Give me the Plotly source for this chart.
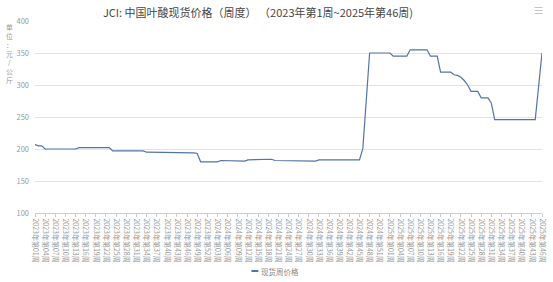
import plotly.graph_objects as go

# ---- data ----
years = [2023, 2024, 2025]
weeks_per_year = [52, 53, 46]
weeks = [f"{y}年第{w:02d}周" for y, n in zip(years, weeks_per_year) for w in range(1, n + 1)]

prices = [
    207, 205, 205, 200, 200, 200, 200, 200, 200, 200, 200, 200, 200,
    202, 202, 202, 202, 202, 202, 202, 202, 202, 202,
    197, 197, 197, 197, 197, 197, 197, 197, 197, 197,
    195, 195, 195, 195, 195, 195, 195, 195, 195, 195, 195, 195, 195,
    194, 194, 193,
    180, 180, 180, 180, 180, 180,
    182, 182, 182, 182, 182,
    181, 181, 181,
    183, 183, 183, 183, 183, 183,
    184, 184,
    182, 182,
    181, 181, 181, 181, 181, 181, 181, 181, 181, 181, 181,
    183, 183, 183, 183, 183, 183, 183, 183, 183, 183, 183, 183, 183,
    201, 275,
    350, 350, 350, 350, 350, 350, 350,
    345, 345, 345, 345, 345,
    355, 355, 355, 355, 355, 355,
    345, 345, 345,
    320, 320, 320, 320,
    316, 315, 312, 307, 300,
    290, 290, 290,
    280, 280, 280,
    272,
    246, 246, 246, 246, 246, 246, 246, 246, 246, 246, 246, 246, 246,
    298, 350,
]

title_text = "JCI: 中国叶酸现货价格（周度） （2023年第1周~2025年第46周)"
y_title = "单位：元/公斤"
series_name = "现货周价格"

FONT = "Noto Sans CJK SC"
LINE_COLOR = "#5274aa"
W, H = 553, 282
ML, MR, MT, MB = 35, 5, 21, 69
PW = W - ML - MR
PH = H - MT - MB


def px_x(x):
    return (x - ML) / PW


def px_y(y):
    return 1 - (y - MT) / PH


fig = go.Figure()
fig.add_trace(go.Scatter(
    x=weeks, y=prices, mode="lines", name=series_name,
    line=dict(color=LINE_COLOR, width=1.2), showlegend=False,
))

fig.update_layout(
    width=W, height=H,
    margin=dict(l=ML, r=MR, t=MT, b=MB),
    paper_bgcolor="white", plot_bgcolor="white",
    font=dict(family=FONT, color="#999999"),
    title=dict(text=title_text, x=258 / W, xanchor="center", y=1 - 13 / H, yanchor="middle",
               font=dict(size=11, color="#464646", family=FONT)),
    showlegend=False,
)

fig.update_xaxes(
    type="category", range=[0, len(weeks) - 1],
    tickmode="array", tickvals=weeks[::3], ticktext=weeks[::3],
    tickangle=90, tickfont=dict(size=7, color="#999999"),
    showgrid=False, showline=True, linecolor="#cccccc", linewidth=1,
    ticks="outside", ticklen=3, tickcolor="#cccccc",
)
fig.update_yaxes(
    range=[100, 400], dtick=50, tick0=100,
    tickfont=dict(size=7.5, color="#999999"),
    showgrid=True, gridcolor="#e3e3e3", gridwidth=1,
    zeroline=False, showline=False, ticks="", ticklabelstandoff=5,
)

# vertical y-axis title (upright stacked characters, one text)
fig.add_annotation(
    text="<br>".join(list(y_title)), xref="paper", yref="paper",
    x=px_x(9), y=px_y(21), xanchor="center", yanchor="top",
    showarrow=False, borderpad=0, align="center",
    font=dict(size=6.8, color="#999999", family=FONT),
)

# legend (drawn manually to match compact style)
fig.add_shape(type="line", xref="paper", yref="paper",
              x0=px_x(254), x1=px_x(261), y0=px_y(271), y1=px_y(271),
              line=dict(color=LINE_COLOR, width=2))
fig.add_annotation(text=series_name, xref="paper", yref="paper",
                   x=px_x(263), y=px_y(271), xanchor="left", yanchor="middle",
                   showarrow=False, borderpad=0,
                   font=dict(size=7.5, color="#888888", family=FONT))

# toolbox icon
fig.add_annotation(text="≡", xref="paper", yref="paper",
                   x=px_x(552), y=px_y(10),
                   xanchor="right", yanchor="middle", showarrow=False,
                   font=dict(size=11, color="#bbbbbb"))

fig.write_html("out.html")
